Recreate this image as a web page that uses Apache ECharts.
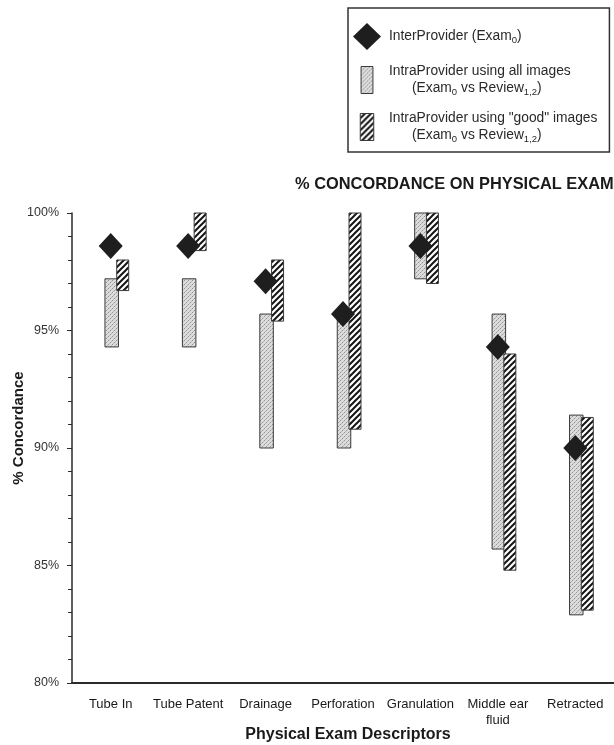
<!DOCTYPE html>
<html>
<head>
<meta charset="utf-8">
<script src="https://cdn.jsdelivr.net/npm/echarts@6/dist/echarts.min.js"></script>
<style>
html,body{margin:0;padding:0;background:#fff;}
#chart{width:614px;height:745px;}
</style>
</head>
<body>
<div id="chart"></div>
<script>
const categories = ['Tube In', 'Tube Patent', 'Drainage', 'Perforation', 'Granulation', 'Middle ear\nfluid', 'Retracted'];
const interProvider = [98.6, 98.6, 97.1, 95.7, 98.6, 94.3, 90.0];
const allImagesLow  = [94.3, 94.3, 90.0, 90.0, 97.2, 85.7, 82.9];
const allImagesHigh = [97.2, 97.2, 95.7, 95.5, 100.0, 95.7, 91.4];
const goodImagesLow  = [96.7, 98.4, 95.4, 90.8, 97.0, 84.8, 83.1];
const goodImagesHigh = [98.0, 100.0, 98.0, 100.0, 100.0, 94.0, 91.3];
const yTicks = [80, 85, 90, 95, 100];

const FONT = "'Liberation Sans', Arial, Helvetica, sans-serif";

function makeDotPattern() {
  const c = document.createElement('canvas');
  c.width = 4; c.height = 4;
  const g = c.getContext('2d');
  g.fillStyle = '#dcdcdc'; g.fillRect(0, 0, 4, 4);
  g.fillStyle = '#949494';
  g.fillRect(0, 0, 1, 1); g.fillRect(2, 2, 1, 1);
  g.fillStyle = '#b8b8b8';
  g.fillRect(1, 3, 1, 1); g.fillRect(3, 1, 1, 1);
  return { image: c, repeat: 'repeat' };
}
function makeHatchPattern() {
  const s = 6;
  const c = document.createElement('canvas');
  c.width = s; c.height = s;
  const g = c.getContext('2d');
  g.fillStyle = '#ffffff'; g.fillRect(0, 0, s, s);
  g.strokeStyle = '#151515'; g.lineWidth = 2;
  g.beginPath();
  g.moveTo(-1, s + 1); g.lineTo(s + 1, -1);
  g.moveTo(-1, 1); g.lineTo(1, -1);
  g.moveTo(s - 1, s + 1); g.lineTo(s + 1, s - 1);
  g.stroke();
  return { image: c, repeat: 'repeat' };
}
const dotPattern = makeDotPattern();
const hatchPattern = makeHatchPattern();

function rangeRenderer(offsetPx, widthPx, fill) {
  return function (params, api) {
    const idx = api.value(0);
    const lo = api.coord([idx, api.value(1)]);
    const hi = api.coord([idx, api.value(2)]);
    return {
      type: 'rect',
      shape: { x: lo[0] + offsetPx - widthPx / 2, y: hi[1], width: widthPx, height: lo[1] - hi[1] },
      style: { fill: fill, stroke: '#3a3a3a', lineWidth: 1 }
    };
  };
}

const NAME_INTER = 'InterProvider (Exam0)';
const NAME_ALL = 'IntraProvider using all images (Exam0 vs Review1,2)';
const NAME_GOOD = 'IntraProvider using "good" images (Exam0 vs Review1,2)';

const legendText = {};
legendText[NAME_INTER] = 'InterProvider (Exam{s|0})';
legendText[NAME_ALL] = 'IntraProvider using all images\n{ind|(Exam}{s|0}{t| vs Review}{s|1,2}{t|)}';
legendText[NAME_GOOD] = 'IntraProvider using "good" images\n{ind|(Exam}{s|0}{t| vs Review}{s|1,2}{t|)}';

const LFS = 13.8;
const chart = echarts.init(document.getElementById('chart'), null, { renderer: 'canvas' });
chart.setOption({
  backgroundColor: '#ffffff',
  animation: false,
  textStyle: { fontFamily: FONT },
  title: {
    text: '% CONCORDANCE ON PHYSICAL EXAM',
    left: 295, top: 176, padding: 0,
    textStyle: { fontFamily: FONT, fontSize: 16.4, fontWeight: 'bold', color: '#1a1a1a' }
  },
  legend: {
    orient: 'vertical',
    left: 348, top: 8,
    padding: [15, 12, 8, 5],
    itemGap: 13,
    itemWidth: 28, itemHeight: 27,
    borderColor: '#333', borderWidth: 1.5,
    backgroundColor: '#fff',
    selectedMode: false,
    data: [
      { name: NAME_INTER, icon: 'diamond', itemStyle: { color: '#1e1e1e', borderWidth: 0 } },
      { name: NAME_ALL, icon: 'path://M0,0 L11,0 L11,25 L0,25 Z', itemStyle: { color: dotPattern, borderColor: '#3a3a3a', borderWidth: 1 } },
      { name: NAME_GOOD, icon: 'path://M0,0 L11,0 L11,22 L0,22 Z', itemStyle: { color: hatchPattern, borderColor: '#3a3a3a', borderWidth: 1 } }
    ],
    formatter: function (name) { return legendText[name]; },
    textStyle: {
      fontFamily: FONT, fontSize: LFS, color: '#2a2a2a', lineHeight: 17,
      padding: [0, 0, 0, 3],
      rich: {
        s: { fontFamily: FONT, fontSize: 9.5, color: '#2a2a2a', lineHeight: 10, verticalAlign: 'bottom' },
        t: { fontFamily: FONT, fontSize: LFS, color: '#2a2a2a', lineHeight: 17 },
        ind: { fontFamily: FONT, fontSize: LFS, color: '#2a2a2a', lineHeight: 17, padding: [0, 0, 0, 23] }
      }
    }
  },
  grid: { left: 72, right: 0, top: 213, bottom: 62, containLabel: false, outerBoundsMode: 'none' },
  xAxis: {
    type: 'category',
    data: categories,
    axisLine: { show: true, lineStyle: { color: '#2a2a2a', width: 2 } },
    axisTick: { show: false },
    axisLabel: { fontFamily: FONT, fontSize: 13, color: '#1a1a1a', margin: 13, lineHeight: 16, interval: 0 },
    name: 'Physical Exam Descriptors',
    nameLocation: 'middle',
    nameGap: 44,
    nameMoveOverlap: false,
    nameTextStyle: { fontFamily: FONT, fontSize: 16, fontWeight: 'bold', color: '#1a1a1a', padding: [0, 0, 0, 10] }
  },
  yAxis: {
    type: 'value',
    min: yTicks[0], max: yTicks[yTicks.length - 1], interval: 5,
    axisLine: { show: true, lineStyle: { color: '#2a2a2a', width: 1.5 } },
    axisTick: { show: true, inside: false, length: 5, lineStyle: { color: '#2a2a2a' } },
    minorTick: { show: true, splitNumber: 5, length: 4, lineStyle: { color: '#2a2a2a' } },
    splitLine: { show: false },
    axisLabel: { formatter: '{value}%', fontFamily: FONT, fontSize: 12.5, color: '#333', margin: 13 },
    name: '% Concordance',
    nameLocation: 'middle',
    nameRotate: 90,
    nameGap: 46,
    nameMoveOverlap: false,
    nameTextStyle: { fontFamily: FONT, fontSize: 15, fontWeight: 'bold', color: '#1a1a1a', padding: [0, 0, 0, 40] }
  },
  series: [
    {
      name: NAME_ALL,
      type: 'custom',
      itemStyle: { color: dotPattern, borderColor: '#3a3a3a' },
      encode: { x: 0, y: [1, 2] },
      data: categories.map((c, i) => [i, allImagesLow[i], allImagesHigh[i]]),
      renderItem: rangeRenderer(1, 13.5, dotPattern),
      z: 2
    },
    {
      name: NAME_GOOD,
      type: 'custom',
      itemStyle: { color: hatchPattern, borderColor: '#3a3a3a' },
      encode: { x: 0, y: [1, 2] },
      data: categories.map((c, i) => [i, goodImagesLow[i], goodImagesHigh[i]]),
      renderItem: rangeRenderer(12, 12, hatchPattern),
      z: 3
    },
    {
      name: NAME_INTER,
      type: 'scatter',
      symbol: 'diamond',
      symbolSize: [24, 26],
      itemStyle: { color: '#1e1e1e', opacity: 1 },
      data: interProvider,
      z: 10
    }
  ]
});
</script>
</body>
</html>
